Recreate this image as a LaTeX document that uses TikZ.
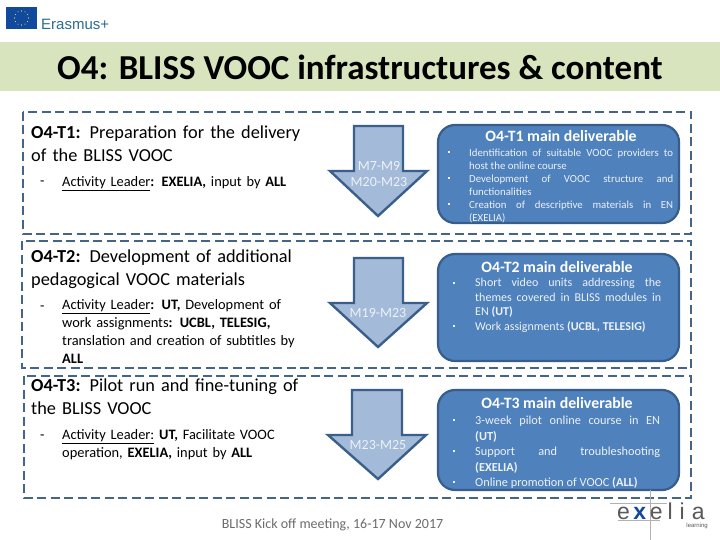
\documentclass[tikz,border=0pt]{standalone}
\usepackage{fontspec}
\setmainfont{Carlito}
\newfontfamily\logofont{Liberation Sans}
\definecolor{bandgreen}{HTML}{D7E4BD}
\definecolor{dashblue}{HTML}{44648A}
\definecolor{arrowfill}{HTML}{A3BAD9}
\definecolor{arrowline}{HTML}{3A5F8B}
\definecolor{boxfill}{HTML}{4F81BD}
\definecolor{boxline}{HTML}{385D8A}
\definecolor{flagblue}{HTML}{10499E}
\definecolor{erasblue}{HTML}{2A6E8F}
\definecolor{softwhite}{HTML}{EDF2F8}
\tikzset{
  x=1pt,y=-1pt,
  taskbox/.style={draw=dashblue,line width=2.6pt,dash pattern=on 9pt off 4.5pt},
  arrowshape/.style={draw=arrowline,line width=2.4pt,fill=arrowfill,line join=miter},
  delivbox/.style={draw=boxline,line width=2.2pt,fill=boxfill,rounded corners=17pt},
  tasktext/.style={anchor=north west,inner sep=0pt,align=left,text width=300pt,font=\fontsize{18.3}{23}\selectfont},
  leadtext/.style={anchor=north west,inner sep=0pt,align=left,text width=255pt,font=\fontsize{14.4}{18}\selectfont},
  dashmark/.style={anchor=base west,inner sep=0pt,font=\fontsize{14.4}{18}\selectfont},
  armlabel/.style={inner sep=0pt,align=center,text=softwhite,font=\fontsize{14}{15.5}\selectfont},
  delivtitle/.style={inner sep=0pt,text=white,font=\bfseries\fontsize{15.8}{17}\selectfont},
  bulA/.style={anchor=north west,inner sep=0pt,align=justify,text=softwhite,text width=204pt,font=\fontsize{10.8}{13}\selectfont},
  bulB/.style={anchor=north west,inner sep=0pt,align=justify,text=softwhite,text width=186pt,font=\fontsize{12}{14.5}\selectfont},
  bulC/.style={anchor=north west,inner sep=0pt,align=justify,text=softwhite,text width=185pt,font=\fontsize{12.3}{15.5}\selectfont},
  bulletmark/.style={fill=softwhite,minimum size=2.5pt,inner sep=0pt},
}
\begin{document}
\begin{tikzpicture}
\useasboundingbox (0,0) rectangle (720,540);
\fill[white] (0,0) rectangle (720,540);
% Title band
\fill[bandgreen] (0,42) rectangle (720,91);
\node[inner sep=0pt,font=\bfseries\fontsize{35}{40}\selectfont] (title) at (360,67) {O4: BLISS VOOC infrastructures \& content};
% Erasmus logo
\fill[flagblue] (6,7) rectangle (37,29);
\foreach \a in {0,30,...,330}{\fill[yellow!85!white] ({21.5+7*cos(\a)},{18+7*sin(\a)}) circle (.55pt);}
\node[anchor=west,inner sep=0pt,text=erasblue,font=\logofont\fontsize{15}{16}\selectfont] (erasmus) at (41,24) {Erasmus+};
% Dashed frames
\draw[taskbox] (23,112) rectangle (691,234);
\draw[taskbox] (22,241) rectangle (691,368);
\draw[taskbox] (24,376) rectangle (691,498);
% Left text T1
\node[tasktext] (t1) at (31,125.5) {\textbf{O4-T1:} Preparation for the delivery\\of the BLISS VOOC};
\node[dashmark] (d1) at (40,186) {-};
\node[leadtext] (l1) at (62,176) {\underline{Activity Leader}\textbf{: EXELIA,} input by \textbf{ALL}};
% Left text T2
\node[tasktext] (t2) at (31,249.5) {\textbf{O4-T2:} Development of additional\\pedagogical VOOC materials};
\node[dashmark] (d2) at (40,310) {-};
\node[leadtext] (l2) at (62,299.5) {\underline{Activity Leader}\textbf{:} \textbf{UT,} Development of\\work assignments\textbf{: UCBL, TELESIG,}\\translation and creation of subtitles by\\\textbf{ALL}};
% Left text T3
\node[tasktext] (t3) at (31,378.5) {\textbf{O4-T3:} Pilot run and fine-tuning of\\the BLISS VOOC};
\node[dashmark] (d3) at (40,439) {-};
\node[leadtext] (l3) at (62,429) {\underline{Activity Leader:} \textbf{UT,} Facilitate VOOC\\operation, \textbf{EXELIA,} input by \textbf{ALL}};
% Arrows
\draw[arrowshape] (354,126) -- (403,126) -- (403,171) -- (427,171) -- (378,216) -- (330,171) -- (354,171) -- cycle;
\draw[arrowshape] (354,258) -- (403,258) -- (403,303) -- (427,303) -- (378,347) -- (330,303) -- (354,303) -- cycle;
\draw[arrowshape] (352,390) -- (402,390) -- (402,435) -- (426,435) -- (378,479) -- (328,435) -- (352,435) -- cycle;
\node[armlabel] (a1) at (379,174) {M7-M9\\M20-M23};
\node[armlabel] (a2) at (378,313) {M19-M23};
\node[armlabel] (a3) at (378,445) {M23-M25};
% Deliverable boxes
\draw[delivbox] (438,125) rectangle (679,223);
\draw[delivbox] (438,254) rectangle (679,361);
\draw[delivbox] (438,390) rectangle (679,490);
\node[delivtitle] (h1) at (561,136) {O4-T1 main deliverable};
\node[delivtitle] (h2) at (557,267) {O4-T2 main deliverable};
\node[delivtitle] (h3) at (557,403) {O4-T3 main deliverable};
% Bullets T1
\node[bulletmark] (b11) at (449,152) {};
\node[bulletmark] (b12) at (449,178) {};
\node[bulletmark] (b13) at (449,204) {};
\node[bulA] (s1) at (469,149) {Identification of suitable VOOC providers to\linebreak host the online course\\Development of VOOC structure and\linebreak functionalities\\Creation of descriptive materials in EN\linebreak (EXELIA)};
% Bullets T2
\node[bulletmark] (b21) at (454,283) {};
\node[bulletmark] (b22) at (454,326) {};
\node[bulB] (s2) at (475,278) {Short video units addressing the\linebreak themes covered in BLISS modules in\linebreak EN \textbf{(UT)}\\Work assignments \textbf{(UCBL, TELESIG)}};
% Bullets T3
\node[bulletmark] (b31) at (454,420) {};
\node[bulletmark] (b32) at (454,451) {};
\node[bulletmark] (b33) at (454,482) {};
\node[bulC] (s3) at (475,416) {3-week pilot online course in EN\linebreak \textbf{(UT)}\\Support and troubleshooting\linebreak \textbf{(EXELIA)}\\Online promotion of VOOC \textbf{(ALL)}};
% Footer
\node[inner sep=0pt,text=gray!85!black,font=\fontsize{14}{16}\selectfont] (foot) at (332.5,525) {BLISS Kick off meeting, 16-17 Nov 2017};
% Exelia logo
\draw[gray!60,line width=.6pt] (610,503) -- (667,503);
\draw[gray!60,line width=.6pt] (618,520) -- (660,520);
\draw[gray!60,line width=.6pt] (650,490) -- (650,540);
\node[anchor=base west,inner sep=0pt,text=gray!70!black,font=\logofont\fontsize{23}{24}\selectfont] (exe) at (617,519) {e\hspace{3.5pt}\textcolor{flagblue}{\textbf{x}}\hspace{3.5pt}e\hspace{5pt}l\hspace{7pt}i\hspace{7pt}a};
\node[anchor=east,inner sep=0pt,text=gray!70!black,font=\logofont\fontsize{6}{7}\selectfont] (lea) at (708,526) {learning};
\end{tikzpicture}
\end{document}
